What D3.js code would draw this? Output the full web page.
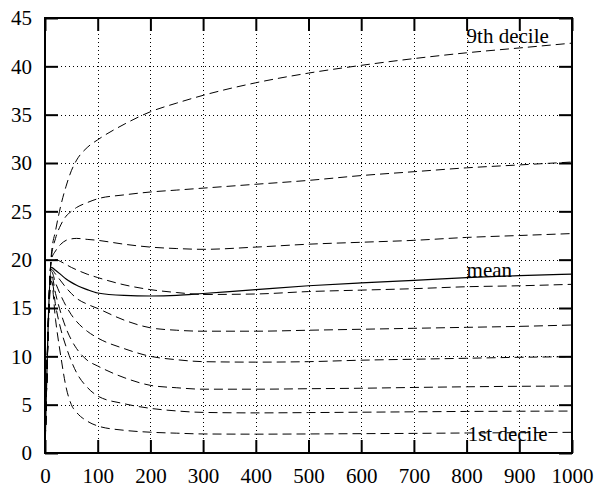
<!DOCTYPE html>
<html>
<head>
<meta charset="utf-8">
<script src="https://cdn.jsdelivr.net/npm/d3@7"></script>
<style>
  html, body { margin: 0; padding: 0; background: #fff; }
  svg text { font-family: "Liberation Serif", "Times New Roman", serif; font-size: 21px; fill: #000; }
</style>
</head>
<body>
<svg id="chart" width="598" height="491"></svg>
<script>
// ---- data ----
const xValues = [0, 12, 20, 30, 40, 50, 60, 80, 100, 150, 200, 250, 300, 400, 500, 600, 700, 800, 900, 1000];
const decile9 = [0, 20.5, 23.0, 25.6, 27.6, 29.2, 30.3, 31.6, 32.4, 34.0, 35.3, 36.2, 37.0, 38.3, 39.3, 40.1, 40.8, 41.4, 41.9, 42.4];
const decile8 = [0, 20.2, 22.2, 23.6, 24.5, 25.0, 25.4, 25.9, 26.3, 26.7, 27.0, 27.2, 27.4, 27.8, 28.2, 28.7, 29.1, 29.5, 29.8, 30.1];
const decile7 = [0, 20.0, 20.9, 21.6, 22.0, 22.15, 22.2, 22.1, 22.0, 21.6, 21.3, 21.15, 21.07, 21.3, 21.6, 21.8, 22.0, 22.3, 22.5, 22.7];
const decile6 = [0, 19.8, 20.0, 19.8, 19.5, 19.2, 18.95, 18.5, 18.15, 17.4, 16.9, 16.6, 16.4, 16.45, 16.7, 16.85, 17.0, 17.2, 17.3, 17.45];
const meanValues = [0, 19.2, 18.9, 18.45, 18.0, 17.65, 17.35, 16.9, 16.55, 16.3, 16.24, 16.3, 16.5, 16.9, 17.3, 17.6, 17.85, 18.15, 18.35, 18.5];
const decile5 = [0, 19.0, 18.5, 17.8, 17.1, 16.5, 16.0, 15.4, 14.95, 13.75, 12.95, 12.7, 12.6, 12.6, 12.7, 12.8, 12.9, 13.0, 13.1, 13.24];
const decile4 = [0, 18.8, 17.6, 16.3, 15.2, 14.3, 13.6, 12.6, 11.9, 10.8, 10.0, 9.65, 9.45, 9.4, 9.45, 9.6, 9.7, 9.8, 9.9, 9.96];
const decile3 = [0, 18.5, 16.5, 14.5, 12.9, 11.7, 10.8, 9.6, 9.0, 7.8, 7.0, 6.75, 6.6, 6.6, 6.65, 6.7, 6.78, 6.85, 6.9, 6.93];
const decile2 = [0, 18.2, 15.3, 12.8, 11.0, 9.5, 8.3, 6.8, 5.9, 5.1, 4.62, 4.35, 4.2, 4.15, 4.18, 4.22, 4.26, 4.3, 4.32, 4.34];
const decile1 = [0, 17.8, 13.8, 10.0, 6.8, 5.0, 4.2, 3.3, 2.8, 2.35, 2.15, 2.05, 1.97, 1.95, 1.97, 2.0, 2.03, 2.07, 2.1, 2.14];

const xTicks = [0, 100, 200, 300, 400, 500, 600, 700, 800, 900, 1000];
const yTicks = [0, 5, 10, 15, 20, 25, 30, 35, 40, 45];

const labelTexts = ["9th decile", "mean", "1st decile"];
const labelX = [800, 800, 802];
const labelY = [42.4, 18.2, 1.24];

// ---- chart ----
const svg = d3.select("#chart");
const x = d3.scaleLinear().domain([0, 1000]).range([45, 572]);
const y = d3.scaleLinear().domain([0, 45]).range([453, 18]);

// grid
const grid = svg.append("g").attr("stroke", "#000").attr("stroke-width", 1)
  .attr("stroke-dasharray", "1,3");
grid.selectAll("line.vx").data(xTicks.slice(1, -1)).join("line")
  .attr("x1", d => Math.round(x(d)) + 0.5).attr("x2", d => Math.round(x(d)) + 0.5)
  .attr("y1", y(45)).attr("y2", y(0));
grid.selectAll("line.hy").data(yTicks.slice(1, -1)).join("line")
  .attr("y1", d => Math.round(y(d)) + 0.5).attr("y2", d => Math.round(y(d)) + 0.5)
  .attr("x1", x(0)).attr("x2", x(1000));

// series lines
const line = d3.line()
  .x((d, i) => x(xValues[i]))
  .y(d => y(d))
  .curve(d3.curveMonotoneX);

const dashedSeries = [decile9, decile8, decile7, decile6, decile5, decile4, decile3, decile2, decile1];
svg.append("g").selectAll("path").data(dashedSeries).join("path")
  .attr("d", line)
  .attr("fill", "none")
  .attr("stroke", "#000")
  .attr("stroke-width", 1)
  .attr("stroke-dasharray", "9,5");

svg.append("path").datum(meanValues)
  .attr("d", line)
  .attr("fill", "none")
  .attr("stroke", "#000")
  .attr("stroke-width", 1.2);

// axes (ticks inward on all sides)
function styleAxis(g) {
  g.select(".domain").remove();
  g.selectAll(".tick line").attr("stroke", "#000").attr("stroke-width", 2);
  g.selectAll(".tick text").attr("fill", "#000")
    .style("font-family", '"Liberation Serif", "Times New Roman", serif')
    .style("font-size", "21px");
}
svg.append("g").attr("transform", `translate(0,${y(0)})`)
  .call(d3.axisBottom(x).tickValues(xTicks).tickSizeInner(-13).tickSizeOuter(0).tickPadding(15).tickFormat(d3.format("d")))
  .call(styleAxis);
svg.append("g").attr("transform", `translate(${x(0)},0)`)
  .call(d3.axisLeft(y).tickValues(yTicks).tickSizeInner(-13).tickSizeOuter(0).tickPadding(13).tickFormat(d3.format("d")))
  .call(styleAxis);
svg.append("g").attr("transform", `translate(0,${y(45)})`)
  .call(d3.axisTop(x).tickValues(xTicks).tickSizeInner(-13).tickSizeOuter(0).tickFormat(""))
  .call(styleAxis);
svg.append("g").attr("transform", `translate(${x(1000)},0)`)
  .call(d3.axisRight(y).tickValues(yTicks).tickSizeInner(-13).tickSizeOuter(0).tickFormat(""))
  .call(styleAxis);

// frame
svg.append("rect")
  .attr("x", x(0)).attr("y", y(45))
  .attr("width", x(1000) - x(0)).attr("height", y(0) - y(45))
  .attr("fill", "none").attr("stroke", "#000").attr("stroke-width", 2);

// labels
svg.append("g").selectAll("text").data(labelTexts).join("text")
  .attr("x", (d, i) => x(labelX[i]))
  .attr("y", (d, i) => y(labelY[i]))
  .text(d => d);
</script>
</body>
</html>
